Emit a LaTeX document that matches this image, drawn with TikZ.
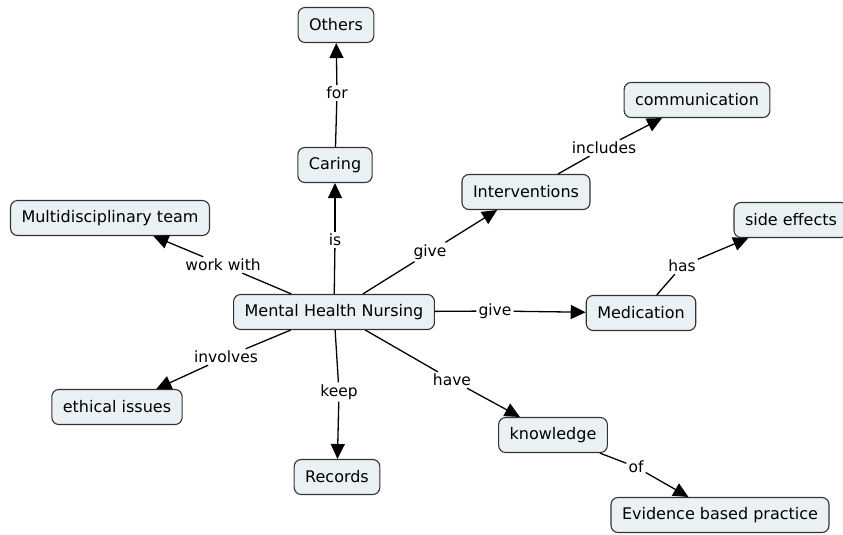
\documentclass[tikz,border=0pt]{standalone}
\usepackage{fontspec}
\setmainfont{DejaVu Sans}
\usetikzlibrary{arrows.meta}
\definecolor{boxfill}{HTML}{EAF1F5}
\definecolor{boxline}{HTML}{333333}
\begin{document}
\begin{tikzpicture}[x=1pt,y=-1pt,
  concept/.style={draw=boxline,fill=boxfill,line width=1.1pt,rounded corners=7pt,
    inner xsep=11pt,minimum height=35pt,font=\fontsize{16}{19}\selectfont},
  linkword/.style={inner sep=2pt,font=\fontsize{15.5}{18}\selectfont},
  link/.style={draw=black,line width=1.3pt},
  linkarrow/.style={link,-{Triangle[length=15pt,width=14pt]}}]
\useasboundingbox (0,0) rectangle (843,535);
% concepts
\node[concept] (mhn)    at (334,312) {Mental Health Nursing};
\node[concept] (others) at (336,25)  {Others};
\node[concept] (caring) at (335,165) {Caring};
\node[concept] (comm)   at (697,100) {communication};
\node[concept] (interv) at (526,192) {Interventions};
\node[concept] (multi)  at (110,218) {Multidisciplinary team};
\node[concept] (side)   at (791,220) {side effects};
\node[concept] (medic)  at (641,313) {Medication};
\node[concept] (ethic)  at (117,407) {ethical issues};
\node[concept] (know)   at (553,435) {knowledge};
\node[concept] (rec)    at (337,477) {Records};
\node[concept] (ebp)    at (720,515) {Evidence based practice};
% linking words
\node[linkword] (lfor)   at (337,93)  {for};
\node[linkword] (lis)    at (335,240) {is};
\node[linkword] (lgive1) at (430,252) {give};
\node[linkword] (lincl)  at (604,148) {includes};
\node[linkword] (lwork)  at (223,265) {work with};
\node[linkword] (lhas)   at (682,266) {has};
\node[linkword] (lgive2) at (495,311) {give};
\node[linkword] (linv)   at (226,357) {involves};
\node[linkword] (lkeep)  at (339,392) {keep};
\node[linkword] (lhave)  at (452,380) {have};
\node[linkword] (lof)    at (636,467) {of};
% connectors
\draw[link] (caring) -- (lfor);  \draw[linkarrow] (lfor) -- (others);
\draw[link] (mhn) -- (lis);      \draw[linkarrow] (lis) -- (caring);
\draw[link] (mhn) -- (lgive1);   \draw[linkarrow] (lgive1) -- (interv);
\draw[link] (interv) -- (lincl); \draw[linkarrow] (lincl) -- (comm);
\draw[link] (mhn) -- (lwork);    \draw[linkarrow] (lwork) -- (multi);
\draw[link] (medic) -- (lhas);   \draw[linkarrow] (lhas) -- (side);
\draw[link] (mhn) -- (lgive2);   \draw[linkarrow] (lgive2) -- (medic);
\draw[link] (mhn) -- (linv);     \draw[linkarrow] (linv) -- (ethic);
\draw[link] (mhn) -- (lkeep);    \draw[linkarrow] (lkeep) -- (rec);
\draw[link] (mhn) -- (lhave);    \draw[linkarrow] (lhave) -- (know);
\draw[link] (know) -- (lof);     \draw[linkarrow] (lof) -- (ebp);
\end{tikzpicture}
\end{document}
